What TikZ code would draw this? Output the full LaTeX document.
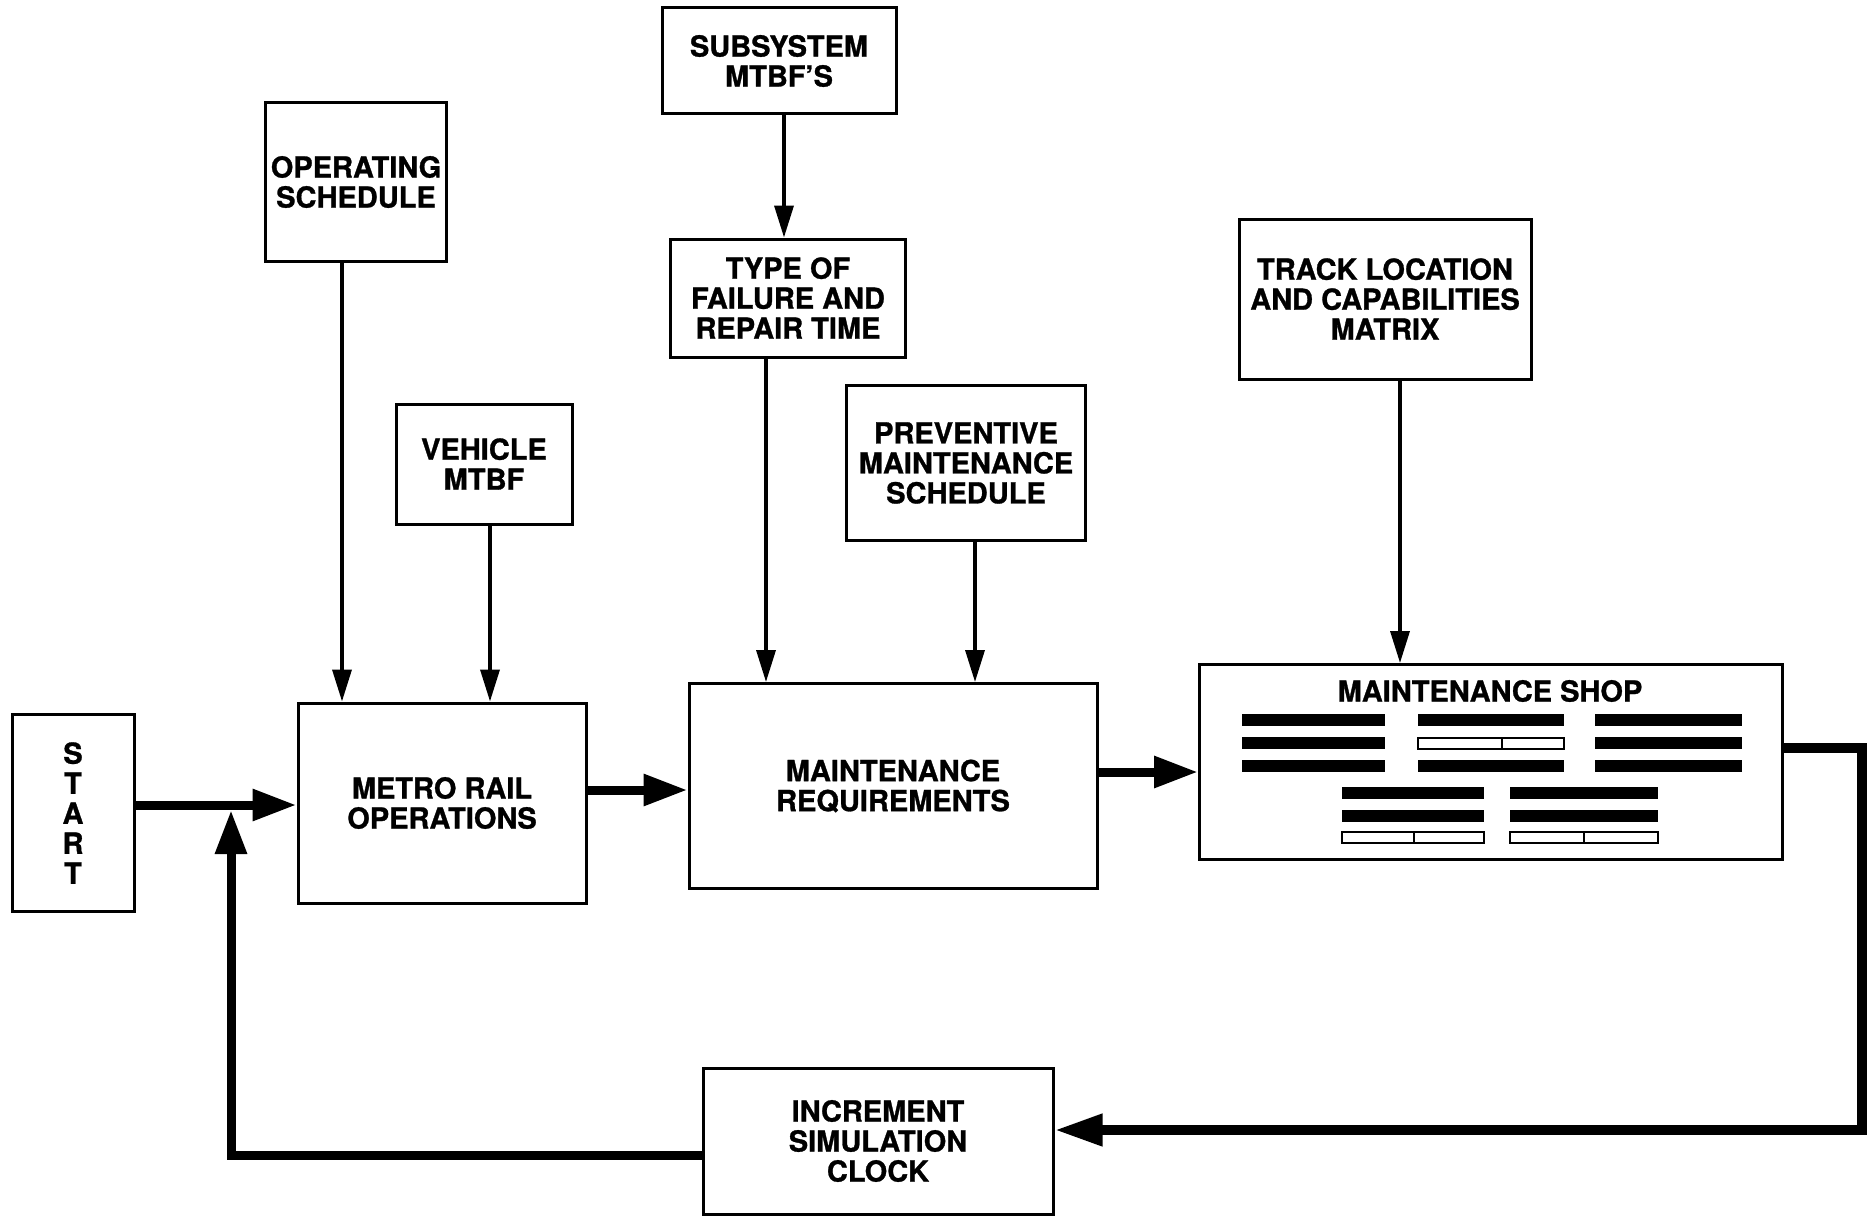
\documentclass[tikz,border=0pt]{standalone}
\usepackage{fontspec}
\setmainfont{TeX Gyre Heros}[BoldFeatures={FakeBold=1}]
\usetikzlibrary{arrows.meta,calc}
\begin{document}
\begin{tikzpicture}[x=1pt,y=-1pt,
  box/.style={draw,line width=3pt,align=center,inner sep=0pt,
    font=\fontsize{29}{30}\selectfont\bfseries},
  thinarrow/.style={line width=3.5pt,-{Triangle[width=19pt,length=32pt]}},
  thickarrow/.style={line width=9pt,-{Triangle[width=30pt,length=44pt]}},
  loopline/.style={line width=10pt,line join=miter,-{Triangle[width=30pt,length=48pt]}},
  solidbar/.style={fill=black,draw=none},
  openbar/.style={draw,line width=2pt,fill=white}]
\useasboundingbox (0,0) rectangle (1876,1220);
\fill[white] (0,0) rectangle (1876,1220);

% nodes
\node[box,minimum width=122pt,minimum height=197pt] (start) at (73,813)
  {S\\T\\A\\R\\T};
\node[box,minimum width=181pt,minimum height=158pt] (ops) at (356,182)
  {OPERATING\\SCHEDULE};
\node[box,minimum width=176pt,minimum height=120pt] (veh) at (484,464)
  {VEHICLE\\MTBF};
\node[box,minimum width=288pt,minimum height=200pt] (mro) at (442,803)
  {METRO RAIL\\OPERATIONS};
\node[box,minimum width=234pt,minimum height=106pt] (sub) at (779,61)
  {SUBSYSTEM\\MTBF'S};
\node[box,minimum width=235pt,minimum height=118pt] (type) at (788,298)
  {TYPE OF\\FAILURE AND\\REPAIR TIME};
\node[box,minimum width=239pt,minimum height=155pt] (prev) at (966,463)
  {PREVENTIVE\\MAINTENANCE\\SCHEDULE};
\node[box,minimum width=408pt,minimum height=205pt] (mr) at (893,786)
  {MAINTENANCE\\REQUIREMENTS};
\node[box,minimum width=292pt,minimum height=160pt] (track) at (1385,299)
  {TRACK LOCATION\\AND CAPABILITIES\\MATRIX};
\node[box,minimum width=583pt,minimum height=195pt] (shop) at (1491,762) {};
\node[font=\fontsize{29}{30}\selectfont\bfseries,inner sep=0pt] (shoptitle) at (1490,691)
  {MAINTENANCE SHOP};
\node[box,minimum width=350pt,minimum height=146pt] (inc) at (878,1141)
  {INCREMENT\\SIMULATION\\CLOCK};

% shop bars
\foreach \y in {720,743,766} {
  \fill[solidbar] (1242,\y-6) rectangle (1385,\y+6);
  \fill[solidbar] (1595,\y-6) rectangle (1742,\y+6);
}
\fill[solidbar] (1418,720-6) rectangle (1564,720+6);
\draw[openbar] (1418,743-5.5) rectangle (1564,743+5.5);
\draw[line width=2pt] (1502,743-5.5) -- (1502,743+5.5);
\fill[solidbar] (1418,766-6) rectangle (1564,766+6);
\foreach \y in {793,816} {
  \fill[solidbar] (1342,\y-6) rectangle (1484,\y+6);
  \fill[solidbar] (1510,\y-6) rectangle (1658,\y+6);
}
\draw[openbar] (1342,837-5.5) rectangle (1484,837+5.5);
\draw[line width=2pt] (1414,837-5.5) -- (1414,837+5.5);
\draw[openbar] (1510,837-5.5) rectangle (1658,837+5.5);
\draw[line width=2pt] (1584,837-5.5) -- (1584,837+5.5);

% thin vertical arrows
\draw[thinarrow] ([xshift=-14pt]ops.south) -- ([xshift=-14pt]ops.south |- mro.north);
\draw[thinarrow] ([xshift=6pt]veh.south) -- ([xshift=6pt]veh.south |- mro.north);
\draw[thinarrow] ([xshift=5pt]sub.south) -- ([xshift=5pt]sub.south |- type.north);
\draw[thinarrow] ([xshift=-22pt]type.south) -- ([xshift=-22pt]type.south |- mr.north);
\draw[thinarrow] ([xshift=9pt]prev.south) -- ([xshift=9pt]prev.south |- mr.north);
\draw[thinarrow] ([xshift=15pt]track.south) -- ([xshift=15pt]track.south |- shop.north);

% thick horizontal arrows
\draw[thickarrow] ([yshift=8pt]start.east) -- ([yshift=8pt]start.east -| mro.west);
\draw[thickarrow] ([yshift=13pt]mro.east) -- ([yshift=13pt]mro.east -| mr.west);
\draw[thickarrow] ([yshift=14pt]mr.east) -- ([yshift=14pt]mr.east -| shop.west);

% return loop
\coordinate (rc) at (1862,1130);
\draw[loopline] ([yshift=14pt]shop.east) -| (rc) -- ([yshift=11pt]inc.east);

% feedback
\coordinate (fb) at (231,1155);
\coordinate (sa) at (231,810);
\draw[line width=9pt,line join=miter,-{Triangle[width=30pt,length=44pt]}]
  ([yshift=-14pt]inc.west) -- (fb) -- (sa);
\end{tikzpicture}
\end{document}
